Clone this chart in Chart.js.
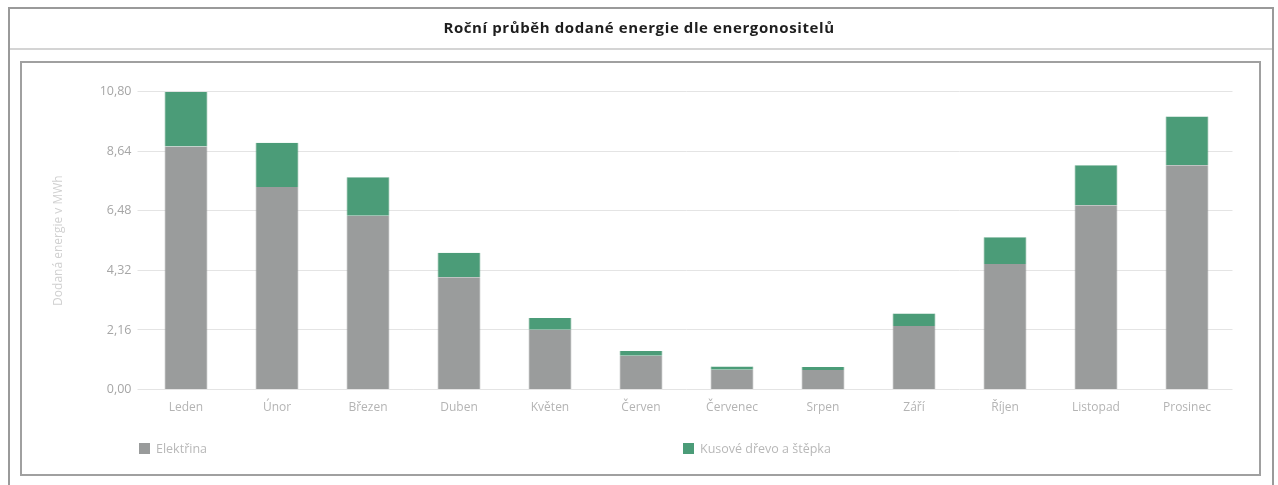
<!DOCTYPE html>
<html>
<head>
<meta charset="utf-8">
<script src="https://cdn.jsdelivr.net/npm/chart.js@4.4.0/dist/chart.umd.min.js"></script>
<style>
  html, body { margin: 0; padding: 0; background: #fff; }
  #wrap { position: relative; width: 1278px; height: 485px; overflow: hidden; }
  #c { position: absolute; left: 0; top: 0; }
  .box { position: absolute; pointer-events: none; box-sizing: border-box; }
  #outer { left: 8px; top: 7px; width: 1266px; height: 490px; border: 2px solid #9a9a9a; }
  #sep { left: 10px; top: 48px; width: 1262px; height: 0; border-top: 2px solid #d4d4d4; }
  #inner { left: 20px; top: 61px; width: 1241px; height: 415px; border: 2px solid #a0a0a0; }
  #title { position: absolute; left: 0; width: 1278px; top: 17px; text-align: center;
           font-family: "Open Sans", sans-serif; font-weight: bold; font-size: 15px; letter-spacing: 0.6px; color: #1e1e1e; }
  .leg { position: absolute; top: 441px; font-family: "Open Sans", sans-serif; font-size: 12.5px; color: #b8b8b8; line-height: 15px; white-space: nowrap; }
  .leg span.sw { display: inline-block; width: 11px; height: 11px; vertical-align: -1px; margin-right: 6px; }
</style>
</head>
<body>
<div id="wrap">
  <canvas id="c" width="1278" height="485"></canvas>
  <div class="box" id="outer"></div>
  <div class="box" id="sep"></div>
  <div class="box" id="inner"></div>
  <div id="title">Roční průběh dodané energie dle energonositelů</div>
  <div class="leg" id="leg1" style="left:139px;"><span class="sw" style="background:#999b9b"></span>Elektřina</div>
  <div class="leg" id="leg2" style="left:683px;"><span class="sw" style="background:#4b9c78"></span>Kusové dřevo a štěpka</div>
</div>
<script>
const categories = ['Leden','Únor','Březen','Duben','Květen','Červen','Červenec','Srpen','Září','Říjen','Listopad','Prosinec'];
const elektrina = [8.81, 7.34, 6.30, 4.07, 2.17, 1.22, 0.72, 0.71, 2.30, 4.55, 6.68, 8.13];
const drevo     = [1.99, 1.61, 1.40, 0.89, 0.42, 0.18, 0.11, 0.11, 0.46, 0.97, 1.45, 1.77];
const yTicks = [0, 2.16, 4.32, 6.48, 8.64, 10.80];
const seriesNames = ['Elektřina', 'Kusové dřevo a štěpka'];
const yTitle = 'Dodaná energie v MWh';

new Chart(document.getElementById('c'), {
  type: 'bar',
  data: {
    labels: categories,
    datasets: [
      { label: seriesNames[0], data: elektrina, backgroundColor: '#9a9c9c', borderColor: '#909292', borderWidth: {left:1,right:1,top:0,bottom:0}, borderSkipped: false, barPercentage: 0.47, categoryPercentage: 1 },
      { label: seriesNames[1], data: drevo, backgroundColor: '#4b9c78', borderColor: '#45936f', borderWidth: {left:1,right:1,top:0,bottom:0}, borderSkipped: false, barPercentage: 0.47, categoryPercentage: 1 }
    ]
  },
  options: {
    responsive: false,
    animation: false,
    events: [],
    layout: { padding: { left: 40, right: 45.5, top: 91.7, bottom: 65.5 } },
    plugins: { legend: { display: false }, title: { display: false }, tooltip: { enabled: false } },
    scales: {
      x: {
        stacked: true,
        grid: { display: false, drawTicks: false },
        border: { display: false },
        ticks: { font: { family: 'Open Sans', size: 12 }, color: '#b4b4b4', padding: 11, maxRotation: 0, autoSkip: false },
        afterFit: s => { s.height = 30; }
      },
      y: {
        stacked: true,
        min: 0, max: 10.8,
        afterBuildTicks: s => { s.ticks = yTicks.map(v => ({ value: v })); },
        grid: { color: '#e4e4e4', tickLength: 3, tickColor: '#e4e4e4' },
        border: { display: false },
        ticks: { font: { family: 'Open Sans', size: 12.5 }, color: '#a6a6a6', padding: 6, callback: v => Number(v).toFixed(2).replace('.', ',') },
        title: { display: true, text: yTitle, font: { family: 'Open Sans', size: 12 }, color: '#d0d0d0', padding: { top: 11, bottom: 0 } },
        afterFit: s => { s.width = 100.5; }
      }
    }
  }
});
</script>
</body>
</html>
